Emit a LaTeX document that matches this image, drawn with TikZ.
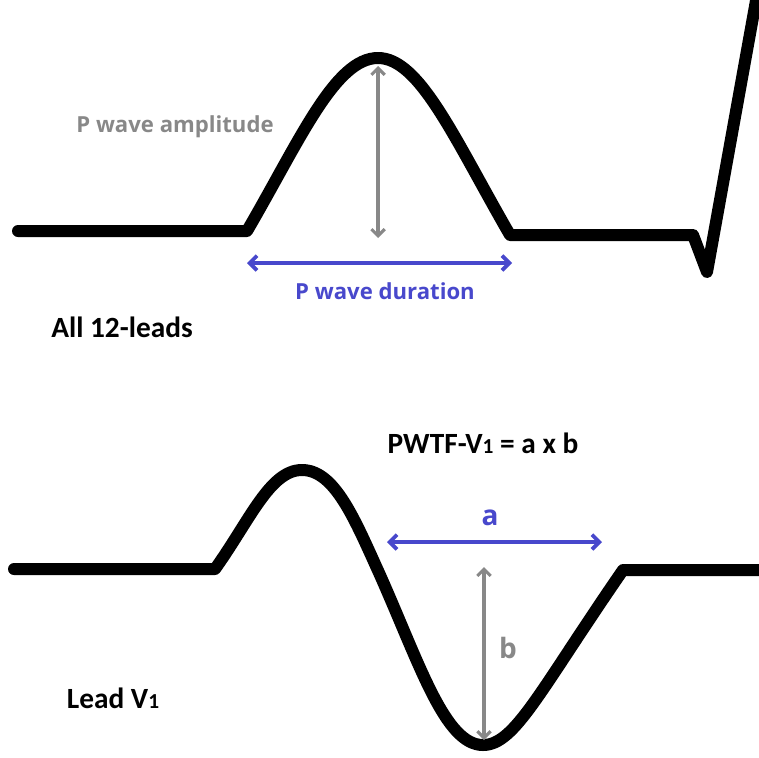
\documentclass[tikz,border=0pt]{standalone}
\usepackage{fontspec}
\setmainfont{Carlito}
\newfontfamily\labelfont{Open Sans}
\usetikzlibrary{arrows.meta}
\definecolor{ampgray}{RGB}{136,136,136}
\definecolor{durblue}{RGB}{72,72,204}
\tikzset{
  wave/.style={line width=9pt, line join=round, line cap=round},
  amparrow/.style={{Straight Barb[length=5pt, width=10pt]}-{Straight Barb[length=5pt, width=10pt]}, draw=ampgray, line width=2.3pt},
  durarrow/.style={{Straight Barb[length=5.5pt, width=11pt]}-{Straight Barb[length=5.5pt, width=11pt]}, draw=durblue, line width=2.8pt},
  amptext/.style={inner sep=0pt, text=ampgray, font=\labelfont\bfseries\fontsize{16.6}{19}\selectfont},
  durtext/.style={inner sep=0pt, text=durblue, font=\labelfont\bfseries\fontsize{16.6}{19}\selectfont},
  bigletter/.style={font=\labelfont\bfseries\fontsize{21}{24}\selectfont},
  leadtext/.style={inner sep=0pt, font=\bfseries\fontsize{22}{26}\selectfont}
}
\newcommand{\sub}[1]{{\fontsize{16}{18}\selectfont #1}}

\begin{document}
\begin{tikzpicture}[x=0.75pt, y=-0.75pt]
  \useasboundingbox (0,0) rectangle (759,757);

  % all 12 leads
  \draw[wave] (18,231) -- (247,231)
    .. controls (300,140) and (335,58) .. (378,58)
    .. controls (420,58) and (455,140) .. (510,235)
    -- (693,235) -- (707,272) -- (757,-5);
  \coordinate (amptop) at (378,66);
  \coordinate (ampbot) at (378,238);
  \coordinate (durleft) at (247,263);
  \coordinate (durright) at (512,263);
  \draw[amparrow] (amptop) -- (ampbot);
  \draw[durarrow] (durleft) -- (durright);
  \node[amptext] (ampl) at (175,127) {P wave amplitude};
  \node[durtext] (durl) at (385,291) {P wave duration};
  \node[leadtext] (all) at (122,327) {All 12-leads};

  % lead V1
  \draw[wave] (14,569) -- (215,569)
    .. controls (250,520) and (270,470) .. (302,470)
    .. controls (335,470) and (355,520) .. (380,575)
    .. controls (420,665) and (445,745) .. (483,745)
    .. controls (515,745) and (540,690) .. (623,570)
    -- (762,570);
  \coordinate (aleft) at (387,542);
  \coordinate (aright) at (602,542);
  \coordinate (btop) at (484,567);
  \coordinate (bbot) at (484,740);
  \draw[durarrow] (aleft) -- (aright);
  \draw[amparrow] (btop) -- (bbot);
  \node[durtext, bigletter] (alab) at (490,518) {a};
  \node[amptext, bigletter] (blab) at (508,648) {b};
  \node[leadtext] (pwtf) at (483,443) {PWTF-V\sub{1} = a x b};
  \node[leadtext] (v1) at (113,698) {Lead V\sub{1}};
\end{tikzpicture}
\end{document}
